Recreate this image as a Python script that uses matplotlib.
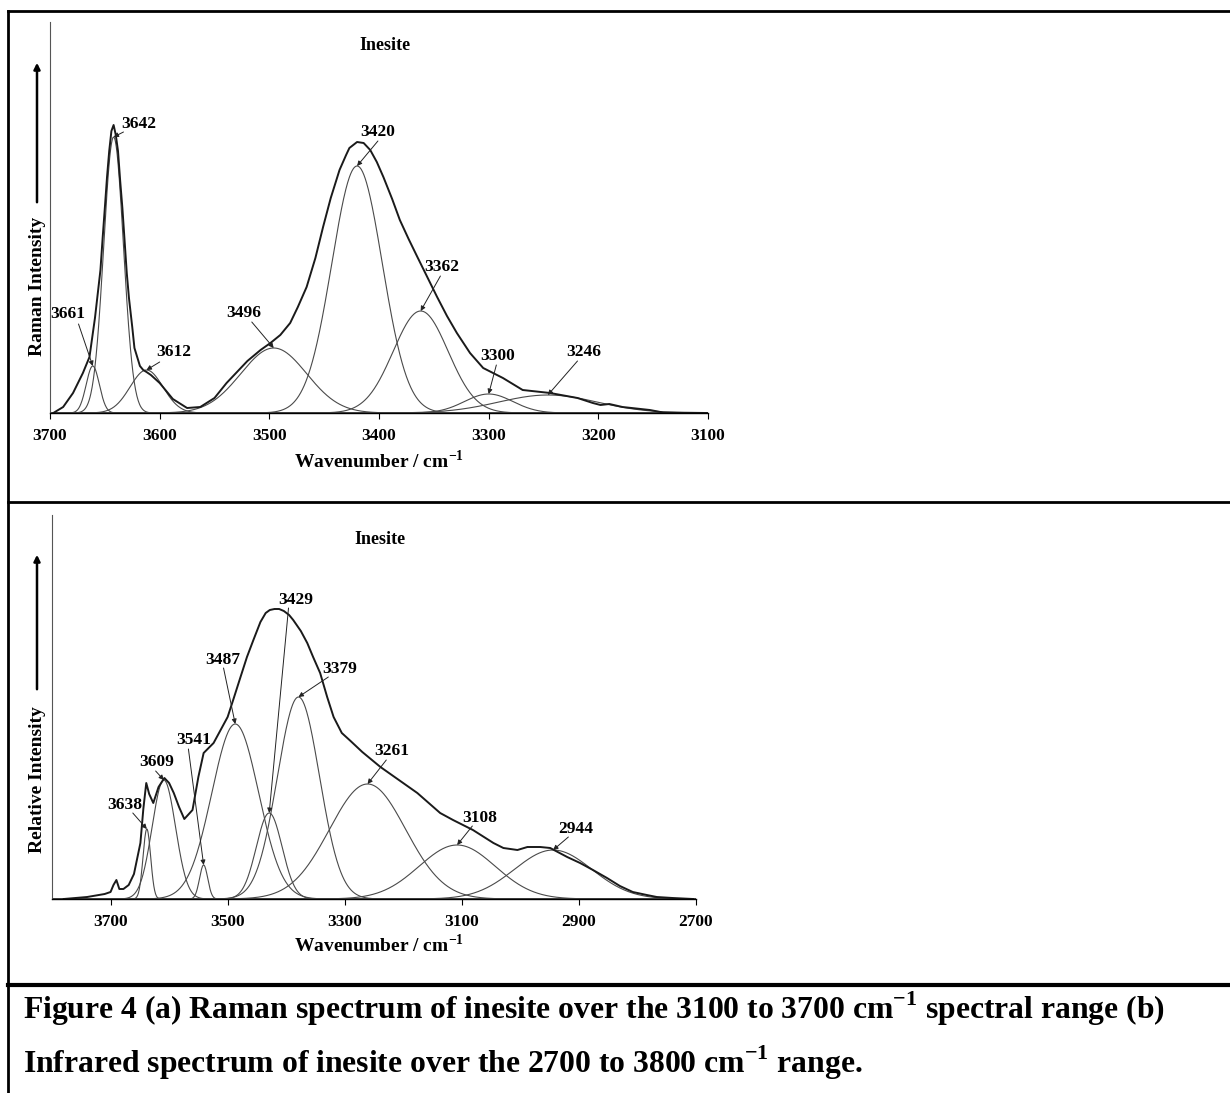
import numpy as np
import matplotlib
matplotlib.use('Agg')
import matplotlib.pyplot as plt
from matplotlib.lines import Line2D

plt.rcParams['font.family'] = ['Liberation Serif', 'DejaVu Serif']
plt.rcParams['font.weight'] = 'bold'
plt.rcParams['mathtext.fontset'] = 'custom'
plt.rcParams['mathtext.rm'] = 'Liberation Serif'
plt.rcParams['mathtext.bf'] = 'Liberation Serif:bold'

# ---- (a) Raman: fitted bands (centre cm-1, height, sigma) ----
raman_centres = [3661, 3642, 3612, 3496, 3420, 3362, 3300, 3246]
raman_heights = [47, 276, 43, 65, 247, 102, 19, 18]
raman_sigmas = [6, 9, 15, 30, 23, 25, 22, 45]
raman_labels = ['3661', '3642', '3612', '3496', '3420', '3362', '3300', '3246']

raman_env_w = [3697, 3688, 3679, 3670, 3664, 3659, 3654, 3652, 3650, 3648, 3646,
               3644, 3642, 3640, 3638, 3636, 3634, 3630, 3628, 3625, 3623, 3618,
               3615, 3612, 3608, 3600, 3588, 3575, 3563, 3550, 3539, 3520, 3508,
               3499, 3490, 3481, 3474, 3466, 3458, 3451, 3444, 3436, 3430, 3427,
               3420, 3414, 3408, 3402, 3396, 3388, 3381, 3373, 3365, 3356, 3347,
               3338, 3329, 3317, 3305, 3287, 3269, 3244, 3219, 3205, 3198, 3190,
               3178, 3153, 3141, 3101]
raman_env_h = [0, 6, 20, 40, 56, 95, 143, 175, 205, 236, 262,
               282, 288, 278, 262, 232, 205, 140, 115, 86, 65, 47,
               43, 41, 38, 30, 14, 5, 6, 15, 30, 52, 63,
               70, 78, 90, 106, 126, 155, 186, 215, 243, 258, 265,
               271, 270, 263, 251, 236, 214, 193, 174, 156, 136, 116,
               97, 80, 60, 45, 35, 23, 20, 15, 10, 8, 9,
               6, 3, 0.5, 0]

# ---- (b) Infrared: fitted bands ----
ir_centres = [3638, 3609, 3541, 3487, 3429, 3379, 3261, 3108, 2944]
ir_heights = [70, 119, 34, 175, 86, 202, 115, 54, 49]
ir_sigmas = [6.5, 20, 7, 40, 22, 36, 65, 65, 66]
ir_labels = ['3638', '3609', '3541', '3487', '3429', '3379', '3261', '3108', '2944']

ir_env_w = [3780, 3740, 3710, 3700, 3695, 3690, 3685, 3678, 3669, 3660, 3649, 3644,
            3639, 3634, 3627, 3618, 3608, 3600, 3592, 3583, 3574, 3560, 3550, 3541,
            3524, 3500, 3490, 3478, 3467, 3456, 3444, 3435, 3428, 3420, 3412, 3404,
            3395, 3388, 3375, 3364, 3354, 3342, 3330, 3319, 3305, 3290, 3270, 3239,
            3176, 3137, 3115, 3081, 3046, 3029, 3005, 2988, 2966, 2949, 2920, 2898,
            2876, 2852, 2830, 2808, 2784, 2767, 2740, 2705]
ir_env_h = [0, 2, 5, 7, 14, 19, 10, 10, 14, 25, 56, 90,
            116, 105, 96, 112, 121, 116, 106, 92, 80, 89, 122, 146,
            156, 182, 200, 222, 242, 259, 277, 286, 289, 290, 290, 288,
            284, 279, 268, 256, 242, 226, 202, 182, 166, 158, 147, 132,
            106, 86, 79, 69, 56, 51, 49, 52, 52, 51, 42, 36,
            29, 21, 13, 7, 4, 2, 1, 0]

# label placement (text centre, arrow tail) in data units
raman_text_pos = [(3684, 99), (3619, 289), (3587, 61), (3523, 100),
                  (3401, 281), (3343, 146), (3292, 57), (3213, 61)]
raman_tail_pos = [(3674, 89), (3633, 281), (3600, 51), (3516, 91),
                  (3401, 272), (3344, 137), (3293, 48), (3219, 52)]
ir_text_pos = [(3676, 94), (3621, 137), (3558, 159), (3509, 239), (3384, 299),
               (3308, 230), (3219, 148), (3070, 81), (2906, 70)]
ir_tail_pos = [(3662, 86), (3623, 128), (3567, 150), (3507, 231), (3396, 291),
               (3328, 222), (3229, 139), (3082, 73), (2918, 62)]

W, H = 1230, 1093
fig = plt.figure(figsize=(W / 100, H / 100), dpi=100)


def px_rect(left, top, right, bottom):
    return [left / W, 1 - bottom / H, (right - left) / W, (bottom - top) / H]


def draw_panel(ax, centres, heights, sigmas, labels, env_w, env_h,
               text_pos, tail_pos, xlim, ticks, ytop):
    grid = np.linspace(xlim[0], xlim[1], 1500)
    for c, h, s in zip(centres, heights, sigmas):
        ax.plot(grid, h * np.exp(-(grid - c) ** 2 / (2 * s * s)),
                color='#4a4a4a', lw=0.8)
    ax.plot(env_w, env_h, color='#1a1a1a', lw=1.4, solid_joinstyle='round')
    for lab, c, h, tp, tl in zip(labels, centres, heights, text_pos, tail_pos):
        ax.text(tp[0], tp[1], lab, ha='center', va='center', fontsize=12.5,
                fontweight='bold')
        ax.annotate('', xy=(c, h), xytext=tl,
                    arrowprops=dict(arrowstyle='-|>', lw=0.7, color='#222222',
                                    mutation_scale=7, shrinkA=0, shrinkB=0))
    ax.set_xlim(*xlim)
    ax.set_ylim(0, ytop)
    ax.set_xticks(ticks)
    ax.set_xticklabels([str(t) for t in ticks], fontsize=12.5, fontweight='bold')
    ax.set_yticks([])
    ax.tick_params(axis='x', direction='out', length=4, width=0.8, pad=7)
    for side in ['top', 'right']:
        ax.spines[side].set_visible(False)
    ax.spines['left'].set_color('#555555')
    ax.spines['left'].set_linewidth(0.8)
    ax.spines['bottom'].set_linewidth(1.0)
    ax.patch.set_alpha(0)


# panel (a)
ax1 = fig.add_axes(px_rect(50, 22, 708, 413))
draw_panel(ax1, raman_centres, raman_heights, raman_sigmas, raman_labels,
           raman_env_w, raman_env_h, raman_text_pos, raman_tail_pos,
           (3700, 3100), list(range(3700, 3099, -100)), 391)
ax1.text(0.509, 0.941, 'Inesite', transform=ax1.transAxes, ha='center',
         va='center', fontsize=13, fontweight='bold')
ax1.text(0.5, -0.123, r'Wavenumber / cm$^{\mathbf{-1}}$', transform=ax1.transAxes,
         ha='center', va='center', fontsize=14, fontweight='bold')

# panel (b)
ax2 = fig.add_axes(px_rect(52, 515, 696, 899))
draw_panel(ax2, ir_centres, ir_heights, ir_sigmas, ir_labels,
           ir_env_w, ir_env_h, ir_text_pos, ir_tail_pos,
           (3800, 2700), list(range(3700, 2699, -200)), 384)
ax2.text(0.509, 0.9375, 'Inesite', transform=ax2.transAxes, ha='center',
         va='center', fontsize=13, fontweight='bold')
ax2.text(0.508, -0.12, r'Wavenumber / cm$^{\mathbf{-1}}$', transform=ax2.transAxes,
         ha='center', va='center', fontsize=14, fontweight='bold')

# y labels with arrows
fig.text(38 / W, 1 - 286 / H, 'Raman Intensity', rotation=90, ha='center',
         va='center', fontsize=14, fontweight='bold')
fig.text(38 / W, 1 - 780 / H, 'Relative Intensity', rotation=90, ha='center',
         va='center', fontsize=14, fontweight='bold')
for y0, y1 in [(205, 60), (692, 552)]:
    fig.add_artist(matplotlib.patches.FancyArrowPatch(
        (37 / W, 1 - y0 / H), (37 / W, 1 - y1 / H), transform=fig.transFigure,
        arrowstyle='-|>', mutation_scale=9, lw=1.8, color='black'))

# table frame
frame = [((8, 11), (1230, 11), 2), ((8, 11), (8, 1093), 2),
         ((8, 502), (1230, 502), 2), ((8, 985), (1230, 985), 3)]
for (xa, ya), (xb, yb), lw in frame:
    fig.add_artist(Line2D([xa / W, xb / W], [1 - ya / H, 1 - yb / H],
                          transform=fig.transFigure, color='black', lw=lw))

# caption
fig.text(23 / W, 1 - 1009 / H,
         r'Figure 4 (a) Raman spectrum of inesite over the 3100 to 3700 cm$^{\mathbf{-1}}$ spectral range (b)',
         ha='left', va='center', fontsize=22.8, fontweight='bold')
fig.text(23 / W, 1 - 1063 / H,
         r'Infrared spectrum of inesite over the 2700 to 3800 cm$^{\mathbf{-1}}$ range.',
         ha='left', va='center', fontsize=22.8, fontweight='bold')

fig.savefig('out.png', dpi=100)
